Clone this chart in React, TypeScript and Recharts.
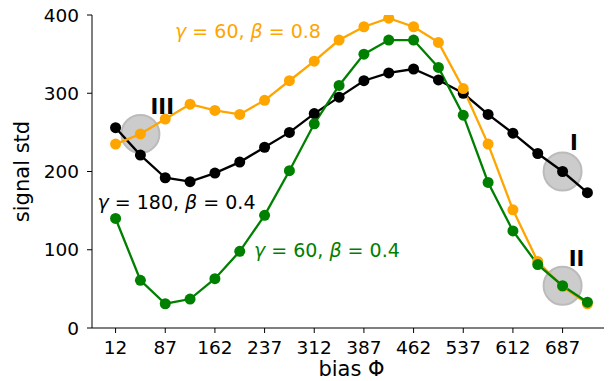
import React from 'react';
import { ComposedChart, Line, XAxis, YAxis, Scatter, ReferenceDot } from 'recharts';

const biasValues = [12, 49.5, 87, 124.5, 162, 199.5, 237, 274.5, 312, 349.5, 387, 424.5, 462, 499.5, 537, 574.5, 612, 649.5, 687, 724.5];
const black180_04 = [256, 221, 192, 187, 198, 212, 231, 250, 274, 295, 316, 326, 331, 317, 300, 273, 249, 223, 200, 173];
const orange60_08 = [235, 248, 267, 286, 278, 273, 291, 316, 341, 368, 385, 396, 385, 365, 306, 235, 151, 85, 53, 31];
const green60_04 = [140, 61, 31, 37, 63, 98, 144, 201, 261, 310, 350, 368, 368, 333, 272, 186, 124, 81, 54, 33];

const majorTicks = [12, 87, 162, 237, 312, 387, 462, 537, 612, 687];
const minorTicks = [49.5, 124.5, 199.5, 274.5, 349.5, 424.5, 499.5, 574.5, 649.5, 724.5];
const yTicks = [0, 100, 200, 300, 400];

const highlightPoints = [
  { x: 49.5, y: 248 },
  { x: 687, y: 200 },
  { x: 687, y: 54 },
];

const romanLabels = [
  { x: 82.5, y: 283, text: 'III' },
  { x: 704, y: 236, text: 'I' },
  { x: 708, y: 88, text: 'II' },
];

const curveLabels = [
  { x: 212, y: 380, g: '60', b: '0.8', color: '#ffa500' },
  { x: 104, y: 161, g: '180', b: '0.4', color: '#000000' },
  { x: 331, y: 99.5, g: '60', b: '0.4', color: '#008000' },
];

const data = biasValues.map((x, i) => ({
  x,
  black: black180_04[i],
  orange: orange60_08[i],
  green: green60_04[i],
}));

const FONT = 'DejaVu Sans';

const CircleShape = (props: any) => (
  <circle cx={props.cx} cy={props.cy} r={19} fill="#cccccc" stroke="#bbbbbb" strokeWidth={2} />
);

export default function App() {
  return (
    <div style={{ marginTop: -8 }}>
      <ComposedChart
        width={604}
        height={381}
        data={data}
        margin={{ top: 15, right: 1, bottom: 0, left: 9 }}
        style={{ fontFamily: FONT }}
      >
        <XAxis
          xAxisId="minor"
          type="number"
          dataKey="x"
          domain={[-23.6, 760.1]}
          ticks={minorTicks}
          interval={0}
          height={0}
          axisLine={false}
          tickSize={3}
          tickLine={{ stroke: '#000', strokeWidth: 1 }}
          tickFormatter={() => ''}
          allowDataOverflow
        />
        <XAxis
          type="number"
          dataKey="x"
          domain={[-23.6, 760.1]}
          ticks={majorTicks}
          interval={0}
          height={53}
          tickSize={5}
          tickMargin={8}
          axisLine={{ stroke: '#000', strokeWidth: 1 }}
          tickLine={{ stroke: '#000', strokeWidth: 1 }}
          tick={{ fill: '#000', fontSize: 18.5, fontFamily: FONT }}
          allowDataOverflow
          label={{ value: 'bias Φ', position: 'insideBottom', offset: 5, fill: '#000', fontSize: 21, fontFamily: FONT }}
        />
        <YAxis
          type="number"
          domain={[0, 400]}
          ticks={yTicks}
          interval={0}
          width={75}
          tickSize={5}
          tickMargin={8}
          axisLine={{ stroke: '#000', strokeWidth: 1 }}
          tickLine={{ stroke: '#000', strokeWidth: 1 }}
          tick={{ fill: '#000', fontSize: 18.5, fontFamily: FONT }}
          allowDataOverflow
          label={{ value: 'signal std', angle: -90, position: 'insideLeft', offset: 4.5, fill: '#000', fontSize: 21, fontFamily: FONT, style: { textAnchor: 'middle' } }}
        />
        <Scatter data={highlightPoints} dataKey="y" shape={CircleShape} isAnimationActive={false} zIndex={0} />
        <Line dataKey="black" stroke="#000000" strokeWidth={2.3} dot={{ r: 5.5, fill: '#000000', stroke: '#000000', strokeWidth: 0 }} activeDot={false} isAnimationActive={false} />
        <Line dataKey="orange" stroke="#ffa500" strokeWidth={2.3} dot={{ r: 5.5, fill: '#ffa500', stroke: '#ffa500', strokeWidth: 0 }} activeDot={false} isAnimationActive={false} />
        <Line dataKey="green" stroke="#008000" strokeWidth={2.3} dot={{ r: 5.5, fill: '#008000', stroke: '#008000', strokeWidth: 0 }} activeDot={false} isAnimationActive={false} />
        {romanLabels.map((l, i) => (
          <ReferenceDot
            key={'r' + i}
            x={l.x}
            y={l.y}
            r={0}
            ifOverflow="visible"
            shape={(p: any) => (
              <text x={p.cx} y={p.cy} textAnchor="middle" dominantBaseline="central" fontFamily={FONT} fontWeight="bold" fontSize={21} fill="#000">
                {l.text}
              </text>
            )}
          />
        ))}
        {curveLabels.map((l, i) => (
          <ReferenceDot
            key={'c' + i}
            x={l.x}
            y={l.y}
            r={0}
            ifOverflow="visible"
            shape={(p: any) => (
              <text x={p.cx} y={p.cy} textAnchor="middle" dominantBaseline="central" fontFamily={FONT} fontSize={19} fill={l.color}>
                <tspan fontStyle="italic">γ</tspan>
                {' = ' + l.g + ', '}
                <tspan fontStyle="italic">β</tspan>
                {' = ' + l.b}
              </text>
            )}
          />
        ))}
      </ComposedChart>
    </div>
  );
}
